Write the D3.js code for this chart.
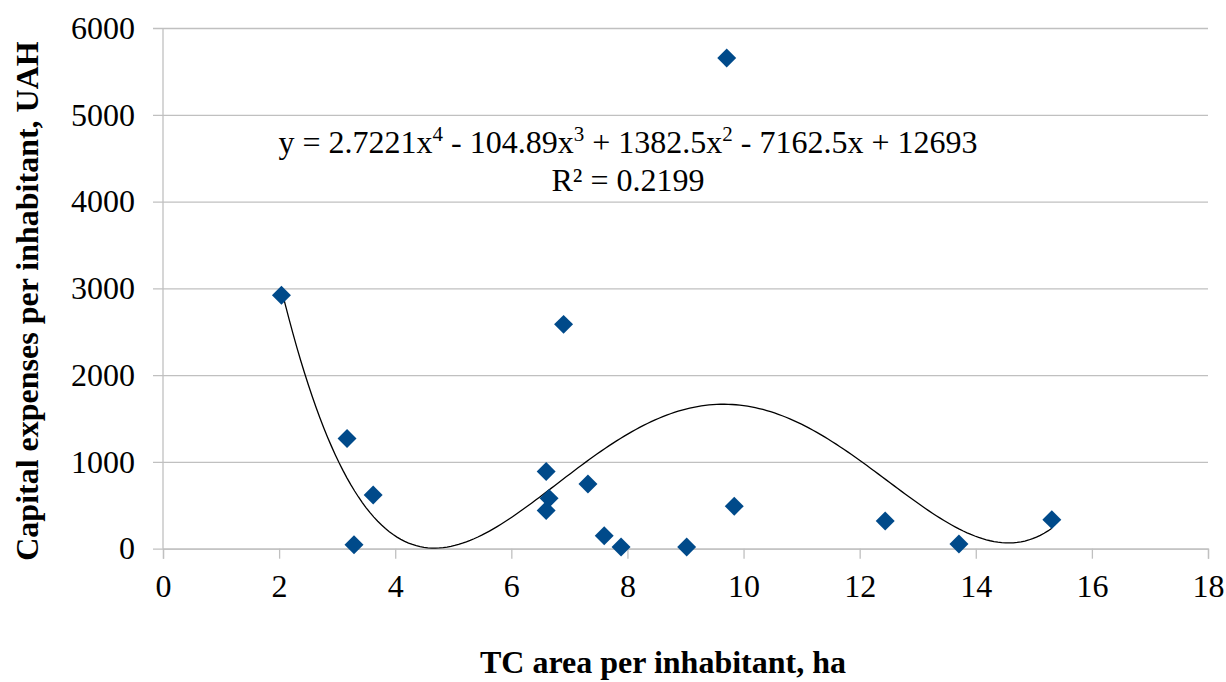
<!DOCTYPE html>
<html>
<head>
<meta charset="utf-8">
<script src="https://cdn.jsdelivr.net/npm/d3@7"></script>
<style>
  html, body { margin: 0; padding: 0; background: #fff; }
  svg { display: block; font-family: 'Liberation Serif', 'Times New Roman', serif; }
</style>
</head>
<body>
<div class="svg-container"></div>
<script>
// TC area per inhabitant (ha) and capital expenses per inhabitant (UAH)
const areaValues = [2.04, 3.17, 3.29, 3.62, 6.60, 6.65, 6.60, 6.90, 7.32, 7.60, 7.89, 9.02, 9.71, 9.84, 12.44, 13.71, 15.31]
const expenseValues = [2920, 1270, 45, 620, 890, 580, 440, 2585, 745, 150, 20, 20, 5655, 490, 320, 55, 335]

const xTicks = [0, 2, 4, 6, 8, 10, 12, 14, 16, 18]
const yTicks = [0, 1000, 2000, 3000, 4000, 5000, 6000]

// polynomial trendline, highest power first (as printed on the chart)
const trendCoefficients = [2.7221, -104.89, 1382.5, -7162.5, 12693]
const rSquaredLabel = 'R² = 0.2199'

const xTitle = 'TC area per inhabitant, ha'
const yTitle = 'Capital expenses per inhabitant, UAH'

const svgWidth = 1226
const svgHeight = 682
const plot = { left: 163, right: 1208, top: 28, bottom: 548.7 }
const serif = "'Liberation Serif', 'Times New Roman', serif"
const fontSize = 32

const svg = d3
  .select('.svg-container')
  .append('svg')
  .attr('width', svgWidth)
  .attr('height', svgHeight)
  .attr('font-family', serif)

const xScale = d3.scaleLinear([0, 18], [plot.left, plot.right])
const yScale = d3.scaleLinear([0, 6000], [plot.bottom, plot.top])

const gridColor = '#c0c0c0'

// horizontal gridlines + y axis
const yAxis = svg
  .append('g')
  .attr('transform', `translate(${plot.left}, 0)`)
  .call(
    d3.axisLeft(yScale)
      .tickValues(yTicks)
      .tickFormat(d3.format('d'))
      .tickSize(-(plot.right - plot.left))
      .tickPadding(28)
  )
  .attr('font-family', serif)
  .attr('font-size', fontSize)
yAxis.select('.domain').remove()
yAxis.selectAll('.tick line')
  .attr('x1', -10)
  .attr('stroke', gridColor)
  .attr('stroke-width', 1.3)
yAxis.selectAll('.tick text').attr('fill', '#000')

// x axis
const xAxis = svg
  .append('g')
  .attr('transform', `translate(0, ${plot.bottom})`)
  .call(d3.axisBottom(xScale).tickValues(xTicks).tickSize(10).tickPadding(16))
  .attr('font-family', serif)
  .attr('font-size', fontSize)
xAxis.select('.domain').attr('stroke', gridColor).attr('stroke-width', 1.3)
xAxis.selectAll('.tick line').attr('stroke', gridColor).attr('stroke-width', 1.3)
xAxis.selectAll('.tick text').attr('fill', '#000')

// vertical axis line
svg
  .append('line')
  .attr('x1', xScale(0))
  .attr('x2', xScale(0))
  .attr('y1', yScale(6000))
  .attr('y2', yScale(0))
  .attr('stroke', gridColor)
  .attr('stroke-width', 1.3)

// trendline from printed coefficients
const poly = (x) => trendCoefficients.reduce((acc, c) => acc * x + c, 0)
const [xMin, xMax] = d3.extent(areaValues)
const trendPoints = d3.range(0, 201).map((i) => {
  const x = xMin + (xMax - xMin) * i / 200
  return [x, poly(x)]
})
svg
  .append('path')
  .datum(trendPoints)
  .attr('fill', 'none')
  .attr('stroke', '#000')
  .attr('stroke-width', 1.3)
  .attr('d', d3.line().x((d) => xScale(d[0])).y((d) => yScale(d[1])))

// diamond markers
const diamond = d3.symbol().type(d3.symbolSquare).size(180)
svg
  .selectAll('.dot')
  .data(areaValues.map((x, i) => ({ x, y: expenseValues[i] })))
  .join('path')
  .classed('dot', true)
  .attr('d', diamond)
  .attr('transform', (d) => `translate(${xScale(d.x)}, ${yScale(d.y)}) rotate(45)`)
  .attr('fill', '#004a8a')

// trendline equation
const eq = svg
  .append('text')
  .attr('x', 628)
  .attr('y', 153)
  .attr('text-anchor', 'middle')
  .attr('font-size', fontSize)
const terms = [
  ['y = ' + trendCoefficients[0] + 'x', '4'],
  [' - ' + Math.abs(trendCoefficients[1]) + 'x', '3'],
  [' + ' + trendCoefficients[2] + 'x', '2'],
  [' - ' + Math.abs(trendCoefficients[3]) + 'x + ' + trendCoefficients[4], null]
]
let shift = 0
terms.forEach(([base, sup]) => {
  eq.append('tspan').attr('dy', shift).text(base)
  shift = 0
  if (sup) {
    eq.append('tspan').attr('dy', -12).attr('font-size', 21).text(sup)
    shift = 12
  }
})

svg
  .append('text')
  .attr('x', 628)
  .attr('y', 191)
  .attr('text-anchor', 'middle')
  .attr('font-size', fontSize)
  .text(rSquaredLabel)

// axis titles
svg
  .append('text')
  .attr('x', 663)
  .attr('y', 673)
  .attr('text-anchor', 'middle')
  .attr('font-size', fontSize)
  .attr('font-weight', 'bold')
  .text(xTitle)

svg
  .append('text')
  .attr('transform', `translate(38, 301) rotate(-90)`)
  .attr('text-anchor', 'middle')
  .attr('font-size', fontSize)
  .attr('font-weight', 'bold')
  .text(yTitle)
</script>
</body>
</html>
